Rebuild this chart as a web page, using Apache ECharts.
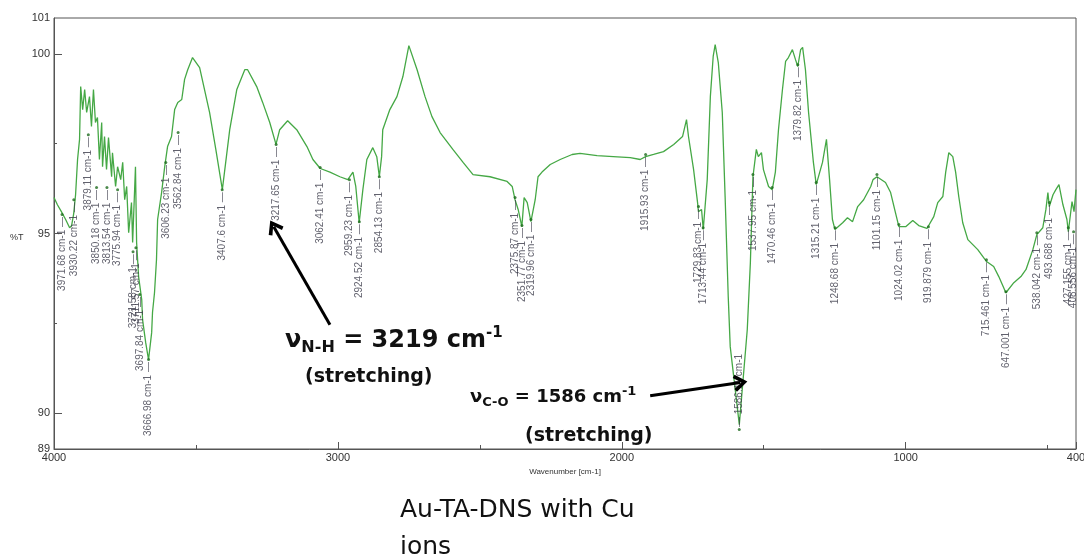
<!DOCTYPE html>
<html><head><meta charset="utf-8">
<script src="https://cdn.jsdelivr.net/npm/echarts@6/dist/echarts.min.js"></script>
<style>html,body{margin:0;padding:0;background:#fff}#c{width:1084px;height:557px}</style>
</head><body><div id="c"></div>
<script>
const wavenumber = [4000,3988,3974,3959,3945,3938,3931,3924,3917,3910,3906,3899,3892,3885,3875,3868,3861,3854,3847,3840,3832,3829,3822,3815,3808,3797,3794,3783,3776,3765,3758,3751,3744,3737,3727,3723,3713,3709,3702,3691,3688,3677,3667,3656,3653,3646,3639,3635,3621,3610,3600,3586,3575,3564,3550,3540,3529,3512,3487,3452,3430,3407,3381,3356,3328,3318,3286,3265,3240,3218,3205,3177,3145,3109,3088,3062,3028,2993,2965,2947,2937,2925,2912,2898,2877,2863,2854,2846,2842,2817,2792,2771,2750,2721,2693,2669,2640,2595,2559,2524,2464,2404,2386,2376,2365,2352,2344,2333,2320,2305,2295,2281,2252,2217,2175,2147,2087,2030,1970,1935,1916,1888,1853,1817,1786,1772,1765,1747,1733,1730,1719,1713,1699,1688,1678,1671,1660,1646,1636,1625,1618,1586,1558,1547,1538,1526,1519,1508,1501,1483,1470,1459,1448,1434,1423,1413,1399,1388,1380,1370,1363,1353,1342,1325,1315,1293,1279,1268,1258,1249,1222,1205,1187,1169,1148,1123,1115,1101,1071,1053,1036,1024,1000,975,954,925,920,901,887,869,859,848,834,824,813,799,781,746,715,690,672,647,619,594,576,552,538,517,506,499,494,481,471,460,446,432,427,414,407,400];
const transmittance = [96.00,95.80,95.61,95.39,95.16,95.22,95.53,96.08,97.06,97.62,99.09,98.45,99.01,98.37,98.81,97.98,99.01,98.09,98.23,97.06,98.09,96.86,97.70,96.78,97.67,96.58,97.25,96.31,96.86,96.50,96.98,95.94,96.31,95.02,95.86,94.75,96.86,94.75,93.80,93.16,92.60,91.96,91.49,92.24,92.80,93.35,94.27,95.39,96.14,96.86,97.42,97.70,98.45,98.65,98.73,99.29,99.56,99.90,99.62,98.37,97.34,96.22,97.89,99.01,99.56,99.56,99.09,98.65,98.09,97.48,97.89,98.14,97.89,97.42,97.06,96.81,96.71,96.58,96.50,96.71,96.31,95.30,96.22,97.06,97.39,97.14,96.58,97.14,97.89,98.45,98.81,99.37,100.23,99.56,98.81,98.26,97.81,97.34,96.98,96.64,96.58,96.45,96.31,95.94,95.67,95.19,96.00,95.86,95.33,95.94,96.58,96.71,96.92,97.06,97.20,97.23,97.17,97.14,97.11,97.06,97.14,97.20,97.28,97.48,97.70,98.17,97.70,96.78,95.86,95.61,95.67,95.11,96.50,98.81,99.93,100.26,99.76,98.37,96.03,93.24,91.85,89.68,92.32,94.19,96.58,97.34,97.14,97.25,96.78,96.31,96.22,96.71,97.89,99.01,99.79,99.90,100.12,99.84,99.65,100.12,100.18,99.56,98.37,96.98,96.36,96.98,97.62,96.50,95.39,95.11,95.30,95.44,95.33,95.75,95.94,96.31,96.50,96.58,96.42,96.14,95.58,95.19,95.19,95.36,95.22,95.14,95.11,95.47,95.86,96.03,96.71,97.25,97.14,96.71,96.03,95.30,94.83,94.55,94.22,94.08,93.80,93.35,93.63,93.80,94.00,94.55,94.97,95.16,95.67,96.14,95.75,96.08,96.22,96.36,95.80,95.39,95.05,95.89,95.61,96.22];
const peakWn = [3971.68,3930.22,3879.11,3850.18,3813.54,3775.94,3721.58,3711.57,3697.84,3666.98,3606.23,3562.84,3407.6,3217.65,3062.41,2959.23,2924.52,2854.13,2375.87,2351.77,2319.96,1915.93,1729.83,1713.44,1586.11,1537.95,1470.46,1379.82,1315.21,1248.68,1101.15,1024.02,919.879,715.461,647.001,538.042,493.688,427.155,408.556];
const peakT = [95.53,95.94,97.75,96.28,96.28,96.22,94.49,94.60,93.30,91.49,96.98,97.81,96.22,97.48,96.84,96.50,95.33,96.58,96.00,95.22,95.39,97.20,95.75,95.16,89.54,96.64,96.28,99.70,96.42,95.16,96.64,95.25,95.19,94.27,93.38,95.02,95.86,95.16,95.05];
const xLabelTicks = [4000,3000,2000,1000,400];
const xMinorTicks = [3500,2500,1500,500];
const yLabelTicks = [89,90,95,100,101];
const yMajorTicks = [90,95,100];
const yMinorTicks = [92.5,97.5];
const arrowNH = [[3028,92.46],[3226,95.19]];
const arrowCO = [[1900,90.48],[1582,90.85]];

const chart = echarts.init(document.getElementById('c'), null, {renderer:'canvas'});
const spectrum = wavenumber.map((w,i)=>[w, transmittance[i]]);
const peaks = peakWn.map((w,i)=>{
  const item = {value:[w, peakT[i]]};
  if (w === 1586.11) {
    item.label = {position:'top', align:'left', formatter: '— ' + w + ' cm-1'};
  }
  return item;
});
const chevron = 'path://M10,0 L20,13 L16.5,15.5 L10,6.5 L3.5,15.5 L0,13 Z';
const axisTxt = {fontFamily:'Liberation Sans, Arial', fontSize:11, color:'#333', formatter:v=>String(v)};
const bold = 'DejaVu Sans';

chart.setOption({
  animation:false,
  backgroundColor:'#fff',
  grid:{left:54, right:8, top:18, bottom:108, show:true, borderColor:'#555', borderWidth:1, outerBoundsMode:'none'},
  xAxis:[
    {type:'value', inverse:true, min:400, max:4000, gridIndex:0,
     name:'Wavenumber [cm-1]', nameLocation:'middle', nameGap:18,
     nameTextStyle:{fontFamily:'Liberation Sans, Arial', fontSize:8, color:'#333'},
     axisLine:{show:true, lineStyle:{color:'#555', width:1}},
     axisTick:{show:true, inside:true, length:7, customValues:xLabelTicks, lineStyle:{color:'#555'}},
     axisLabel:Object.assign({show:true, margin:3, customValues:xLabelTicks}, axisTxt),
     splitLine:{show:false}},
    {type:'value', inverse:true, min:400, max:4000, gridIndex:0, position:'bottom',
     axisLine:{show:false},
     axisTick:{show:true, inside:true, length:4, customValues:xMinorTicks, lineStyle:{color:'#555'}},
     axisLabel:{show:false}, splitLine:{show:false}}
  ],
  yAxis:[
    {type:'value', min:89, max:101,
     axisLine:{show:true, lineStyle:{color:'#555', width:1}},
     axisTick:{show:true, inside:true, length:8, customValues:yMajorTicks, lineStyle:{color:'#555'}},
     axisLabel:Object.assign({show:true, margin:4, customValues:yLabelTicks}, axisTxt),
     splitLine:{show:false}},
    {type:'value', min:89, max:101, position:'left',
     axisLine:{show:false},
     axisTick:{show:true, inside:true, length:3, customValues:yMinorTicks, lineStyle:{color:'#555'}},
     axisLabel:{show:false}, splitLine:{show:false}}
  ],
  series:[
    {type:'line', data:spectrum, showSymbol:false, symbol:'none', silent:true,
     lineStyle:{color:'#45a845', width:1.3}, z:2},
    {type:'scatter', data:peaks, symbol:'circle', symbolSize:3, silent:true,
     itemStyle:{color:'#1e6b1e'}, z:3,
     label:{show:true, rotate:90, position:'bottom', distance:1, align:'right', verticalAlign:'middle',
            formatter:p=>p.value[0] + ' cm-1 —', fontFamily:'Liberation Sans, Arial', fontSize:10, color:'#3a3a48'},
     markLine:{silent:true, symbol:['none', chevron], symbolSize:[17,14],
       lineStyle:{color:'#000', width:3, type:'solid'}, label:{show:false},
       data:[[{coord:arrowNH[0]},{coord:arrowNH[1]}],[{coord:arrowCO[0]},{coord:arrowCO[1]}]]}}
  ],
  graphic:[
    {type:'text', x:10, y:238, style:{text:'%T', fontFamily:'Liberation Sans, Arial', fontSize:9, fill:'#333', verticalAlign:'middle'}},
    {type:'text', x:285, y:341, style:{text:'{a|ν}{s|N-H}{a| = 3219 cm}{p|-1}', verticalAlign:'middle', fill:'#111',
      rich:{a:{fontFamily:bold, fontWeight:'bold', fontSize:24, lineHeight:30, fill:'#111'},
            s:{fontFamily:bold, fontWeight:'bold', fontSize:16, lineHeight:16, verticalAlign:'bottom', fill:'#111'},
            p:{fontFamily:bold, fontWeight:'bold', fontSize:15, lineHeight:16, verticalAlign:'top', fill:'#111'}}}},
    {type:'text', x:305, y:377, style:{text:'(stretching)', fontFamily:bold, fontWeight:'bold', fontSize:19, fill:'#111', verticalAlign:'middle'}},
    {type:'text', x:470, y:397, style:{text:'{a|ν}{s|C-O}{a| = 1586 cm}{p|-1}', verticalAlign:'middle', fill:'#111',
      rich:{a:{fontFamily:bold, fontWeight:'bold', fontSize:18, lineHeight:24, fill:'#111'},
            s:{fontFamily:bold, fontWeight:'bold', fontSize:13, lineHeight:13, verticalAlign:'bottom', fill:'#111'},
            p:{fontFamily:bold, fontWeight:'bold', fontSize:13, lineHeight:13, verticalAlign:'top', fill:'#111'}}}},
    {type:'text', x:525, y:436, style:{text:'(stretching)', fontFamily:bold, fontWeight:'bold', fontSize:19, fill:'#111', verticalAlign:'middle'}},
    {type:'text', x:400, y:492, style:{text:'Au-TA-DNS with Cu\nions', fontFamily:'DejaVu Sans', fontSize:25, lineHeight:37, fill:'#111'}}
  ]
});
</script></body></html>
